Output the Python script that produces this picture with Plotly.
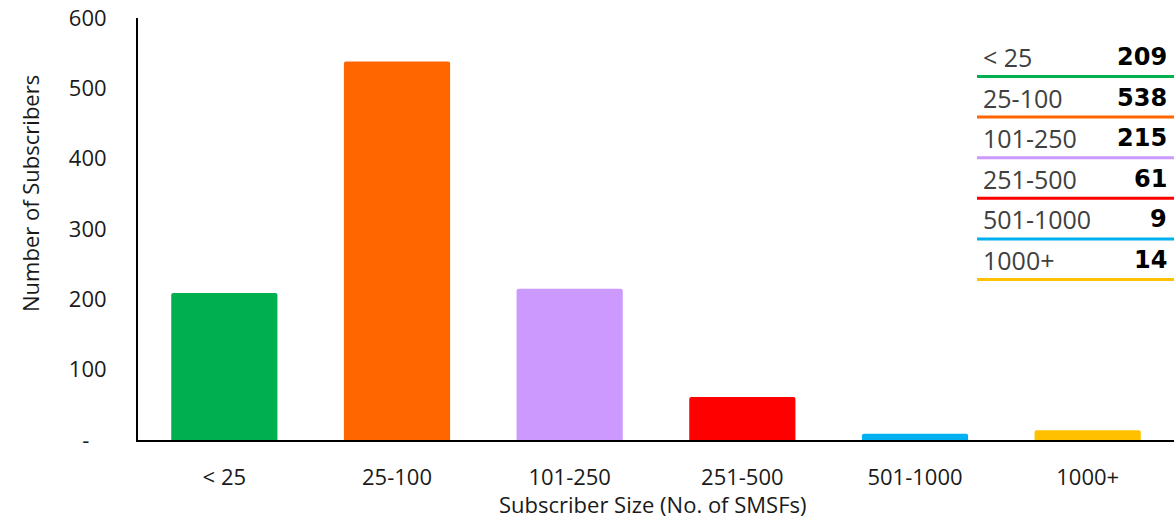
import plotly.graph_objects as go

categories = ["< 25", "25-100", "101-250", "251-500", "501-1000", "1000+"]
subscribers = [209, 538, 215, 61, 9, 14]
colors = ["#00B050", "#FF6600", "#CC99FF", "#FF0000", "#00B0F0", "#FFC000"]
y_tickvals = [0, 100, 200, 300, 400, 500, 600]
y_ticktext = ["-\u00a0\u00a0\u00a0", "100", "200", "300", "400", "500", "600"]

W, H = 1174, 519
L, R, T, B = 138, 0, 18, 79
PW, PH = W - L - R, H - T - B

def xp(px):
    return (px - L) / PW

def yp(py):
    return (H - B - py) / PH

fig = go.Figure()
fig.add_trace(go.Bar(
    x=categories, y=subscribers,
    marker=dict(color=colors, line=dict(width=0), cornerradius=2),
    width=0.615,
    hoverinfo="x+y",
))

font_main = "Open Sans, Calibri, sans-serif"
TXT = "#1a1a1a"

fig.update_layout(
    width=W, height=H,
    margin=dict(l=L, r=R, t=T, b=B),
    paper_bgcolor="white", plot_bgcolor="white",
    showlegend=False,
    xaxis=dict(
        range=[-0.5, 5.5], showgrid=False, showline=True, linecolor="black", linewidth=2,
        ticks="", tickfont=dict(family=font_main, size=22, color=TXT),
        ticklabelstandoff=17, zeroline=False,
    ),
    yaxis=dict(
        range=[0, 600], showgrid=False, showline=True, linecolor="black", linewidth=2,
        tickvals=y_tickvals, ticktext=y_ticktext, ticks="",
        tickfont=dict(family=font_main, size=22, color=TXT),
        ticklabelstandoff=25, zeroline=False,
    ),
)

annotations = [
    dict(text="Subscriber Size (No. of SMSFs)", xref="paper", yref="paper",
         x=xp(652), y=yp(504), showarrow=False, xanchor="center", yanchor="middle",
         borderpad=0, font=dict(family=font_main, size=22, color=TXT)),
    dict(text="Number of Subscribers", xref="paper", yref="paper",
         x=xp(30), y=yp(194), showarrow=False, xanchor="center", yanchor="middle",
         textangle=-90, font=dict(family=font_main, size=22, color=TXT)),
]
shapes = []
row0, step = 57, 40.6
for i, (cat, val, col) in enumerate(zip(categories, subscribers, colors)):
    cy = row0 + i * step
    annotations.append(dict(text=cat, xref="paper", yref="paper", x=xp(981), y=yp(cy),
                            showarrow=False, xanchor="left", yanchor="middle",
                            font=dict(family=font_main, size=25, color="#404040")))
    annotations.append(dict(text="<b>%d</b>" % val, xref="paper", yref="paper", x=xp(1169), y=yp(cy),
                            showarrow=False, xanchor="right", yanchor="middle",
                            font=dict(family="DejaVu Sans", size=24, color="black")))
    ly = cy + 19.5
    shapes.append(dict(type="line", xref="paper", yref="paper", x0=xp(977), x1=xp(1174),
                       y0=yp(ly), y1=yp(ly), line=dict(color=col, width=3)))

fig.update_layout(annotations=annotations, shapes=shapes)
fig.write_html("out.html")
